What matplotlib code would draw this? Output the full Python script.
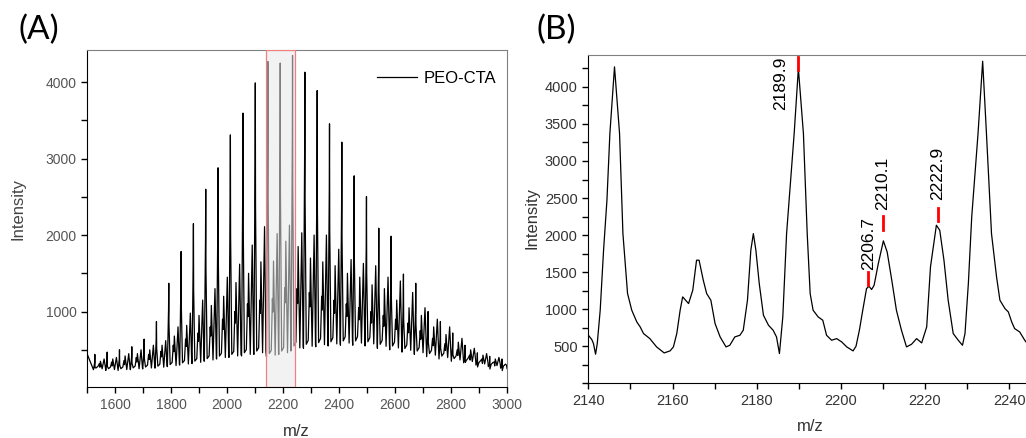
import numpy as np
import matplotlib
matplotlib.use("Agg")
import matplotlib.pyplot as plt
from matplotlib.ticker import MultipleLocator

plt.rcParams['font.family'] = ['Liberation Sans', 'DejaVu Sans']

# ---- panel A: PEO-CTA spectrum, read per 44 Da repeat unit ----
main_mz = [1528, 1572, 1616, 1660, 1704, 1748, 1792, 1836, 1880, 1924, 1968, 2012,
           2057, 2101, 2146, 2190, 2234, 2278, 2322, 2366, 2410, 2454, 2498, 2542,
           2586, 2630, 2674, 2718, 2762, 2806, 2850, 2894, 2938, 2982]
main_int = [440, 470, 500, 540, 640, 870, 1370, 1785, 2150, 2600, 2880, 3310,
            3595, 3990, 4270, 4250, 4350, 4130, 3890, 3455, 3215, 2775, 2505, 2090,
            1985, 1490, 1370, 1000, 870, 720, 560, 460, 415, 380]
s16_int = [320, 340, 360, 400, 440, 480, 560, 640, 720, 800, 900, 1000,
           1100, 1150, 1170, 1310, 1300, 1250, 1200, 1150, 1100, 1050, 1000, 950,
           900, 850, 750, 650, 580, 500, 430, 380, 340, 300]
s20_int = [350, 380, 420, 450, 500, 560, 680, 820, 950, 1080, 1200, 1380,
           1500, 1650, 1660, 1920, 1850, 1700, 1650, 1600, 1500, 1450, 1350, 1300,
           1150, 1050, 950, 800, 700, 600, 500, 430, 380, 330]
s33_int = [380, 400, 450, 500, 560, 620, 800, 980, 1150, 1300, 1450, 1620,
           1870, 2110, 2020, 2130, 2030, 2000, 2000, 1815, 1680, 1630, 1600, 1450,
           1400, 1250, 1050, 900, 800, 650, 520, 450, 400, 350]
base_int = [240, 230, 230, 240, 250, 260, 280, 300, 320, 350, 380, 400,
            420, 440, 410, 440, 500, 520, 540, 550, 560, 560, 550, 520,
            500, 470, 440, 410, 380, 350, 330, 300, 280, 260]

# ---- panel B: zoom 2140-2244 ----
mz_b = [2140.0, 2140.8, 2141.2, 2141.7, 2142.1, 2142.8, 2143.6, 2144.4, 2145.1, 2146.2,
        2147.4, 2148.2, 2149.3, 2150.3, 2151.5, 2152.3, 2153.1, 2154.6, 2156.2, 2157.0,
        2158.0, 2159.4, 2160.2, 2161.0, 2161.8, 2162.4, 2163.1, 2163.8, 2164.8, 2165.7,
        2166.3, 2167.3, 2168.1, 2169.1, 2170.1, 2171.3, 2172.7, 2173.6, 2174.8, 2176.0,
        2176.8, 2177.8, 2178.6, 2179.2, 2179.8, 2180.6, 2181.6, 2182.8, 2183.9, 2184.7,
        2185.4, 2186.2, 2187.1, 2188.9, 2189.9, 2191.1, 2192.0, 2192.7, 2193.4, 2194.6,
        2195.7, 2196.6, 2197.8, 2199.0, 2200.2, 2201.4, 2202.9, 2203.6, 2204.4, 2205.2,
        2206.1, 2206.7, 2207.3, 2207.9, 2208.9, 2210.1, 2211.0, 2212.1, 2213.2, 2214.4,
        2215.6, 2216.8, 2218.0, 2219.2, 2220.4, 2221.3, 2222.7, 2223.5, 2224.5, 2225.5,
        2226.7, 2227.9, 2228.9, 2229.5, 2230.3, 2231.1, 2232.6, 2233.7, 2234.6, 2235.8,
        2237.0, 2237.8, 2239.0, 2239.8, 2240.6, 2241.3, 2242.5, 2243.7, 2244.0]
int_b = [648, 590, 536, 392, 536, 986, 1796, 2470, 3370, 4270,
         3370, 2020, 1211, 986, 828, 761, 671, 603, 491, 455,
         410, 437, 491, 671, 986, 1166, 1121, 1076, 1256, 1661,
         1661, 1391, 1211, 1121, 806, 626, 491, 513, 626, 648,
         716, 1121, 1796, 2020, 1796, 1346, 918, 783, 716, 626,
         401, 896, 2020, 3370, 4247, 3370, 2020, 1211, 986, 896,
         851, 648, 581, 603, 558, 491, 437, 500, 716, 986,
         1278, 1310, 1265, 1323, 1616, 1922, 1773, 1391, 986, 716,
         491, 527, 603, 545, 761, 1571, 2133, 2065, 1661, 1121,
         671, 581, 513, 671, 1346, 2245, 3370, 4346, 3370, 2020,
         1436, 1121, 1008, 963, 828, 738, 693, 581, 558]

peak_labels = ['2189.9', '2206.7', '2210.1', '2222.9']
peak_mz = [2189.9, 2206.4, 2209.9, 2223.0]
mark_lo = [4225, 1324, 2075, 2192]
mark_hi = [4397, 1503, 2255, 2372]

# build the panel A trace: trough, main, trough, M+16, M+20, trough, M+33, trough
mz_a, int_a = [1500], [450]
for k in range(len(main_mz)):
    m = main_mz[k]
    b = base_int[k]
    mz_a += [m - 5, m - 0.8, m, m + 0.8, m + 5, m + 12, m + 16, m + 18, m + 20, m + 26, m + 33, m + 38]
    int_a += [b, main_int[k] * 0.75, main_int[k], main_int[k] * 0.6, b * 1.1, b * 1.2,
              s16_int[k], s16_int[k] * 0.85, s20_int[k], b * 1.05, s33_int[k], b * 1.1]
mz_a = np.array(mz_a)
int_a = np.array(int_a)
keep = mz_a <= 3000
mz_a, int_a = mz_a[keep], int_a[keep]

fig = plt.figure(figsize=(10.26, 4.38), dpi=100)

# ---------------- (A) ----------------
axA = fig.add_axes([0.0848, 0.1158, 0.4094, 0.770])
axA.plot(mz_a, int_a, color='black', lw=0.9, label='PEO-CTA')
axA.axvspan(2140, 2244, facecolor=(0.91, 0.91, 0.91, 0.55), edgecolor='#f08080', lw=0.9, zorder=3)
axA.set_xlim(1500, 3000)
axA.set_ylim(10, 4420)
axA.set_xticks(range(1600, 3001, 200))
axA.xaxis.set_minor_locator(MultipleLocator(100))
axA.set_yticks([1000, 2000, 3000, 4000])
axA.yaxis.set_minor_locator(MultipleLocator(500))
axA.tick_params(which='both', direction='out', length=4, width=1, labelsize=10, labelcolor='#555555')
for s in ['top', 'right']:
    axA.spines[s].set_color('#808080')
axA.set_xlabel('m/z', fontsize=12, color='#333333', va='center')
axA.set_ylabel('Intensity', fontsize=12, color='#444444', va='center')
axA.xaxis.set_label_coords(0.498, -0.1325)
axA.yaxis.set_label_coords(-0.164, 0.53)
axA.legend(loc='center right', bbox_to_anchor=(0.975, 0.917), frameon=False, fontsize=12,
           handlelength=2.4, handletextpad=0.4, borderpad=0, borderaxespad=0)

# ---------------- (B) ----------------
axB = fig.add_axes([0.5731, 0.1249, 0.4269, 0.7495])
axB.plot(mz_b, int_b, color='black', lw=0.9)
for lab, x, lo, hi in zip(peak_labels, peak_mz, mark_lo, mark_hi):
    axB.plot([x, x], [lo, hi], color='red', lw=2)
axB.text(2185.8, 4410, peak_labels[0], rotation=90, ha='center', va='top', fontsize=12.5)
axB.text(2206.5, 1526, peak_labels[1], rotation=90, ha='center', va='bottom', fontsize=12.5)
axB.text(2209.9, 2336, peak_labels[2], rotation=90, ha='center', va='bottom', fontsize=12.5)
axB.text(2223.0, 2471, peak_labels[3], rotation=90, ha='center', va='bottom', fontsize=12.5)
axB.set_xlim(2139.9, 2244)
axB.set_ylim(0, 4430)
axB.xaxis.set_major_locator(MultipleLocator(20))
axB.xaxis.set_minor_locator(MultipleLocator(10))
axB.set_yticks(range(500, 4001, 500))
axB.yaxis.set_minor_locator(MultipleLocator(250))
axB.tick_params(which='both', direction='out', length=4, width=1, labelsize=10.5, labelcolor='#333333')
axB.spines['top'].set_color('#808080')
axB.spines['right'].set_visible(False)
axB.set_xlabel('m/z', fontsize=12, color='#333333', va='center')
axB.set_ylabel('Intensity', fontsize=12, color='#333333', va='center')
axB.xaxis.set_label_coords(0.508, -0.133)
axB.yaxis.set_label_coords(-0.1285, 0.5026)

fig.text(18 / 1026, 1 - 30 / 438, '(A)', fontsize=24, va='center', ha='left', family=['Lato', 'DejaVu Sans'])
fig.text(537 / 1026, 1 - 30 / 438, '(B)', fontsize=24, va='center', ha='left', family=['Lato', 'DejaVu Sans'])

fig.savefig('out.png', dpi=100)
